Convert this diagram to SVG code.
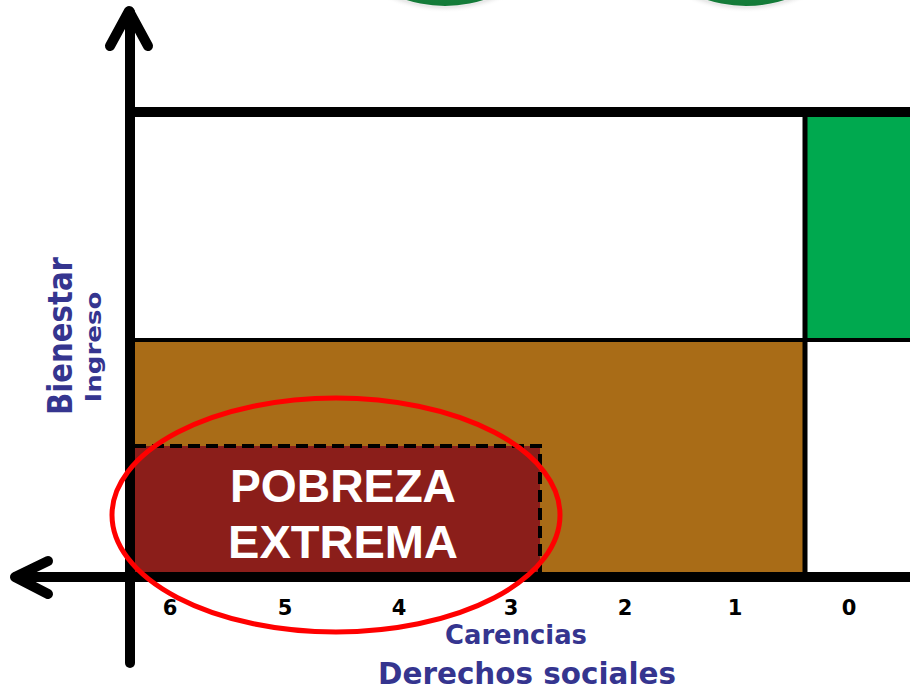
<svg xmlns="http://www.w3.org/2000/svg" width="910" height="692" viewBox="0 0 910 692">
  <defs>
    <radialGradient id="ring" cx="0.5" cy="0.5" r="0.5">
      <stop offset="0.88" stop-color="#ffffff"/>
      <stop offset="0.96" stop-color="#e8e8e8"/>
      <stop offset="1" stop-color="#ffffff" stop-opacity="0"/>
    </radialGradient>
    <radialGradient id="greenball" cx="0.5" cy="0.3" r="0.7">
      <stop offset="0.6" stop-color="#22a050"/>
      <stop offset="1" stop-color="#137a38"/>
    </radialGradient>
  </defs>
  <style>
    .axis { stroke: #000; stroke-width: 10; fill: none; stroke-linecap: round; stroke-linejoin: round; }
    .grid { stroke: #000; fill: none; }
    .num { font-family: "DejaVu Sans", sans-serif; font-weight: bold; font-size: 21px; fill: #000; text-anchor: middle; }
    .lbl { font-family: "DejaVu Sans", "Open Sans", sans-serif; font-weight: bold; fill: #35358f; text-anchor: middle; }
    .big { font-family: "Liberation Sans", Arial, sans-serif; font-weight: bold; font-size: 46px; fill: #fff; text-anchor: middle; }
  </style>
  <rect width="910" height="692" fill="#fff"/>

  <g id="top-circles">
    <circle cx="445" cy="-130" r="143" fill="url(#ring)"/>
    <circle cx="445" cy="-120" r="126" fill="url(#greenball)"/>
    <circle cx="746" cy="-130" r="143" fill="url(#ring)"/>
    <circle cx="746" cy="-120" r="126" fill="url(#greenball)"/>
  </g>

  <g id="regions">
    <rect x="132" y="340" width="673" height="235" fill="#a96c17"/>
    <rect x="805" y="112" width="105" height="228" fill="#00a94f"/>
  </g>

  <g id="pobreza-extrema">
    <rect x="134" y="446" width="406" height="128" fill="#8b1e1a"/>
    <path d="M134 446 H540 V573" fill="none" stroke="#000" stroke-width="4" stroke-dasharray="12 6"/>
    <text class="big" x="343" y="502" textLength="226" lengthAdjust="spacingAndGlyphs">POBREZA</text>
    <text class="big" x="343" y="558" textLength="230" lengthAdjust="spacingAndGlyphs">EXTREMA</text>
  </g>

  <g id="grid-lines">
    <line class="grid" x1="130" y1="112" x2="910" y2="112" stroke-width="10"/>
    <line class="grid" x1="130" y1="340" x2="910" y2="340" stroke-width="4"/>
    <line class="grid" x1="805" y1="112" x2="805" y2="577" stroke-width="5"/>
  </g>

  <g id="connectors">
    <line class="axis" x1="130" y1="12" x2="130" y2="663" stroke-linecap="butt"/>
    <polyline class="axis" points="110,46 129,11 148,46"/>
    <line class="axis" x1="16" y1="577" x2="910" y2="577" stroke-linecap="butt"/>
    <polyline class="axis" points="48,561 15,577 48,594"/>
  </g>

  <g id="ellipse">
    <ellipse cx="336" cy="515" rx="224" ry="117" fill="none" stroke="#ff0000" stroke-width="5"/>
  </g>

  <g id="x-ticks">
    <text class="num" x="170" y="615">6</text>
    <text class="num" x="285" y="615">5</text>
    <text class="num" x="399" y="615">4</text>
    <text class="num" x="511" y="615">3</text>
    <text class="num" x="625" y="615">2</text>
    <text class="num" x="735" y="615">1</text>
    <text class="num" x="849" y="615">0</text>
  </g>

  <g id="x-labels">
    <text class="lbl" x="516" y="644" font-size="26" textLength="142" lengthAdjust="spacingAndGlyphs">Carencias</text>
    <text class="lbl" x="527" y="684" font-size="31" textLength="298" lengthAdjust="spacingAndGlyphs">Derechos sociales</text>
  </g>

  <g id="y-labels">
    <text class="lbl" transform="translate(72 336) rotate(-90)" font-size="33" textLength="158" lengthAdjust="spacingAndGlyphs">Bienestar</text>
    <text class="lbl" transform="translate(101 347) rotate(-90)" font-size="22" textLength="111" lengthAdjust="spacingAndGlyphs">Ingreso</text>
  </g>
</svg>
